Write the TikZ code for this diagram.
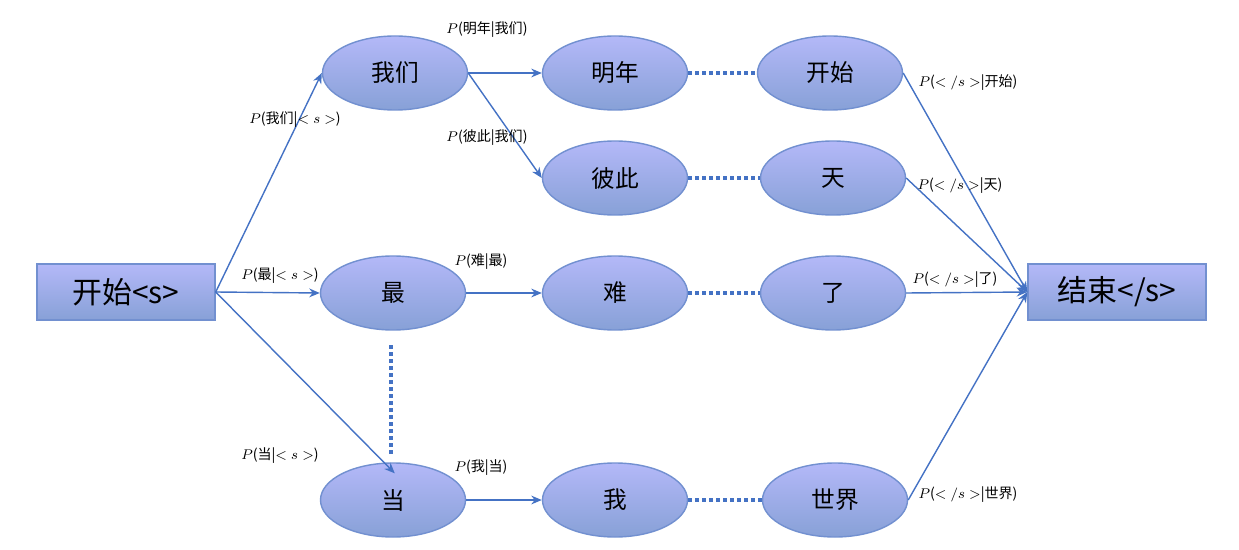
\documentclass[tikz,border=0pt]{standalone}
\usepackage{fontspec}
\setmainfont{Liberation Sans}
\newfontfamily\cjk{Noto Sans CJK SC}
\usetikzlibrary{shapes.geometric,arrows.meta}
\definecolor{ln}{HTML}{4472C4}
\definecolor{bd}{HTML}{7290D0}
\tikzset{
 el/.style={ellipse,draw=bd,thick,top color=blue!25!white!85!bd,bottom color=bd!85!white,minimum width=145*0.02cm,minimum height=74*0.02cm,inner sep=0pt,font=\cjk\fontsize{13.5}{15}\selectfont},
 bx/.style={rectangle,draw=bd,thick,top color=blue!25!white!85!bd,bottom color=bd!85!white,minimum width=178*0.02cm,minimum height=56*0.02cm,font=\cjk\fontsize{17}{19}\selectfont},
 ar/.style={draw=ln,-{Stealth[length=6pt,width=5pt]},line width=0.8pt},
 dt/.style={draw=ln,line width=2pt,dotted},
 lb/.style={font=\cjk\fontsize{8}{9}\selectfont,inner sep=1pt}
}
\begin{document}
\begin{tikzpicture}[x=0.02cm,y=-0.02cm]
\useasboundingbox (0,0) rectangle (1239,550);
\node[bx] (s) at (126,292) {开始<s>};
\node[bx] (e) at (1117,292) {结束</s>};
\node[el] (w1) at (395,73) {我们};
\node[el] (w2) at (615,73) {明年};
\node[el] (w3) at (830,73) {开始};
\node[el] (b2) at (615,178) {彼此};
\node[el] (b3) at (833,178) {天};
\node[el] (z1) at (393,293) {最};
\node[el] (z2) at (615,293) {难};
\node[el] (z3) at (833,293) {了};
\node[el] (d1) at (393,500) {当};
\node[el] (d2) at (615,500) {我};
\node[el] (d3) at (835,500) {世界};
\coordinate (v1) at (391,345); \coordinate (v2) at (391,455);
\draw[ar] (s.east) -- (w1.west);
\draw[ar] (s.east) -- (z1.west);
\draw[ar] (s.east) -- ([xshift=-50*0.02cm]d1.north east);
\draw[ar] (w1.east) -- (w2.west);
\draw[ar] (w1.east) -- (b2.west);
\draw[ar] (z1.east) -- (z2.west);
\draw[ar] (d1.east) -- (d2.west);
\draw[ar] (w3.east) -- (e.west);
\draw[ar] (b3.east) -- (e.west);
\draw[ar] (z3.east) -- (e.west);
\draw[ar] (d3.east) -- (e.west);
\draw[dt] (w2.east) -- (w3.west);
\draw[dt] (b2.east) -- (b3.west);
\draw[dt] (z2.east) -- (z3.west);
\draw[dt] (d2.east) -- (d3.west);
\draw[dt] (v1) -- (v2);
\node[lb] (l1) at (295,120) {$P$(我们|$<s>$)};
\node[lb] (l2) at (487,30) {$P$(明年|我们)};
\node[lb] (l3) at (487,138) {$P$(彼此|我们)};
\node[lb] (l4) at (968,83) {$P$($</s>$|开始)};
\node[lb] (l5) at (960,186) {$P$($</s>$|天)};
\node[lb] (l6) at (280,276) {$P$(最|$<s>$)};
\node[lb] (l7) at (481,262) {$P$(难|最)};
\node[lb] (l8) at (955,280) {$P$($</s>$|了)};
\node[lb] (l9) at (280,456) {$P$(当|$<s>$)};
\node[lb] (l10) at (481,468) {$P$(我|当)};
\node[lb] (l11) at (968,495) {$P$($</s>$|世界)};
\end{tikzpicture}
\end{document}
